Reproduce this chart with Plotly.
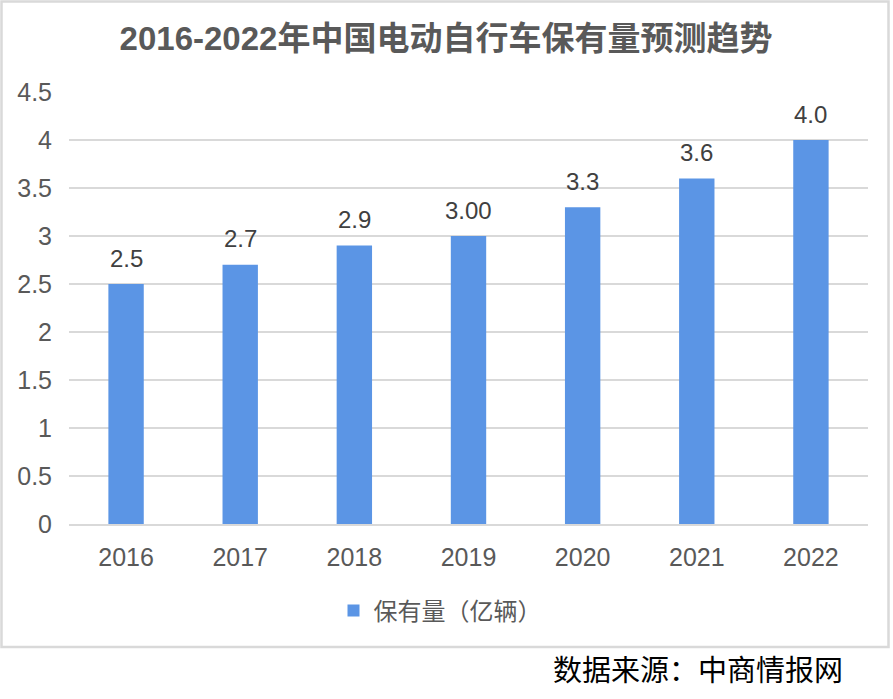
import plotly.graph_objects as go

years = ["2016", "2017", "2018", "2019", "2020", "2021", "2022"]
values = [2.5, 2.7, 2.9, 3.0, 3.3, 3.6, 4.0]
labels = ["2.5", "2.7", "2.9", "3.00", "3.3", "3.6", "4.0"]
series_name = "保有量（亿辆）"
title = "2016-2022年中国电动自行车保有量预测趋势"
source = "数据来源：中商情报网"

W, H = 893, 699
L, R, T, B = 69, 25, 92, 175
pw, ph = W - L - R, H - T - B

def px(x):
    return (x - L) / pw

def py(y):
    return (H - B - y) / ph

fig = go.Figure()
fig.add_trace(go.Bar(
    x=years, y=values, name=series_name,
    marker=dict(color="#5B95E5", line=dict(width=0)),
    width=0.31,
    showlegend=True,
))

for i, (v, lab) in enumerate(zip(values, labels)):
    fig.add_annotation(x=i, y=v, xref="x", yref="y", text=lab, showarrow=False,
                       yanchor="middle", yshift=26,
                       font=dict(family="Liberation Sans, Arial", size=24, color="#404040"))

fig.update_layout(
    width=W, height=H,
    margin=dict(l=L, r=R, t=T, b=B),
    paper_bgcolor="white", plot_bgcolor="white",
    font=dict(family="Liberation Sans, Noto Sans CJK SC", color="#595959"),
    title=dict(text="<b>" + title + "</b>", x=px(446), xref="paper", xanchor="center",
               y=1 - 38 / H, yanchor="middle",
               font=dict(family="Liberation Sans, Noto Sans CJK SC", size=33, color="#595959")),
    xaxis=dict(type="category", range=[-0.5, 6.5], showline=True, linecolor="#D9D9D9", linewidth=2,
               ticks="", showgrid=False,
               tickfont=dict(family="Liberation Sans, Arial", size=25, color="#595959"),
               ticklabelstandoff=10),
    yaxis=dict(range=[0, 4.5], dtick=0.5, showgrid=True, gridcolor="#D9D9D9", gridwidth=1.5,
               zeroline=False, showline=False, ticks="",
               tickfont=dict(family="Liberation Sans, Arial", size=25, color="#595959"),
               ticklabelstandoff=16, tickformat="~g"),
    legend=dict(orientation="h", x=px(440), xanchor="center", y=py(611), yanchor="middle",
                font=dict(family="Noto Sans CJK SC", size=24, color="#595959")),
    showlegend=True,
)

fig.add_shape(type="rect", xref="paper", yref="paper",
              x0=px(1.5), x1=px(888.5), y0=py(647), y1=py(1.5),
              line=dict(color="#D9D9D9", width=2.5), fillcolor="rgba(0,0,0,0)")

fig.add_annotation(text=source, xref="paper", yref="paper", x=px(698), y=py(668),
                   xanchor="center", yanchor="middle", showarrow=False,
                   font=dict(family="Noto Sans CJK SC", size=29, color="#000000"))

fig.write_html("out.html", config={"displayModeBar": False},
               post_script="document.body.style.margin='0';document.body.style.overflow='hidden';")
